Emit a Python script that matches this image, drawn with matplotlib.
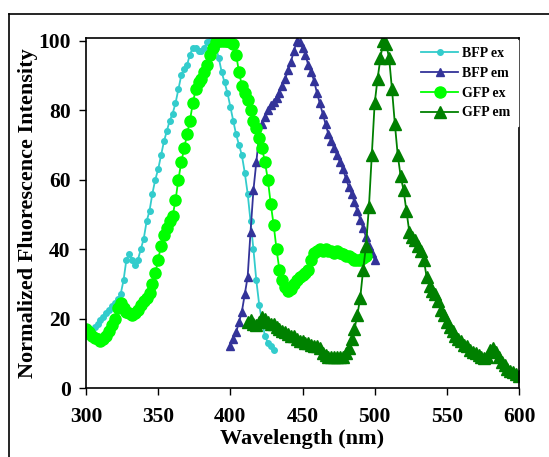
import numpy as np
import matplotlib
matplotlib.use("Agg")
import matplotlib.pyplot as plt
from matplotlib.lines import Line2D

# ---- data (wavelength nm, normalized intensity) ----
bfp_ex_nm = [300, 302, 304, 306, 308, 310, 312, 314, 316, 318, 320, 322, 324, 326, 328,
             330, 332, 334, 336, 338, 340, 342, 344, 346, 348, 350, 352, 354, 356, 358,
             360, 362, 364, 366, 368, 370, 372, 374, 376, 378, 380, 382, 384, 386, 388,
             390, 392, 394, 396, 398, 400, 402, 404, 406, 408, 410, 412, 414, 416, 418,
             420, 422, 424, 426, 428, 430]
bfp_ex = [15, 15.5, 16.5, 17.5, 18.5, 19.5, 20.5, 21.5, 22.5, 23.5, 24.5, 25.5, 27, 31, 37,
          38.5, 37, 35.5, 37, 40, 43, 48, 51, 56, 60, 63, 67, 71, 74, 77,
          79, 82, 86, 90, 92, 93, 96, 98, 98, 97, 97, 98, 99.5, 100, 100,
          98, 95, 91, 88, 85, 81, 77, 73, 70, 67, 62, 56, 48, 40, 31,
          24, 19, 15, 13, 12, 11]

bfp_em_nm = [400, 402, 404, 406, 408, 410, 412, 414, 416, 418, 420, 422, 424, 426, 428,
             430, 432, 434, 436, 438, 440, 442, 444, 446, 448, 450, 452, 454, 456, 458,
             460, 462, 464, 466, 468, 470, 472, 474, 476, 478, 480, 482, 484, 486, 488,
             490, 492, 494, 496, 498, 500]
bfp_em = [12, 14, 16, 19, 22, 27, 32, 45, 57, 65, 73, 76, 78, 80, 81.5,
          82.5, 83.5, 85, 87, 89, 91.5, 94, 97, 100, 99.5, 98, 96, 93, 91, 88.5,
          85, 82, 79, 76, 73, 71, 69, 67, 65, 63, 60.5, 58, 56, 53.5, 51,
          48.5, 46, 43.5, 41, 39, 37]

gfp_ex_nm = [300, 302, 304, 306, 308, 310, 312, 314, 316, 318, 320, 322, 324, 326, 328,
             330, 332, 334, 336, 338, 340, 342, 344, 346, 348, 350, 352, 354, 356, 358,
             360, 362, 364, 366, 368, 370, 372, 374, 376, 378, 380, 382, 384, 386, 388,
             390, 392, 394, 396, 398, 400, 402, 404, 406, 408, 410, 412, 414, 416, 418,
             420, 422, 424, 426, 428, 430, 432, 434, 436, 438, 440, 442, 444, 446, 448,
             450, 452, 454, 456, 458, 460, 462, 464, 466, 468, 470, 472, 474, 476, 478,
             480, 482, 484, 486, 488, 490, 492, 494]
gfp_ex = [17, 16, 15, 14.5, 14, 13.5, 14, 15, 16.5, 18, 20, 23, 24.5, 23, 22,
          21.5, 21, 21.5, 22.5, 24, 25, 26, 27.5, 30, 33, 37, 41, 44, 46, 48,
          49.5, 54, 60, 65, 69, 73, 77, 82, 86, 88, 89, 91, 93, 96, 98,
          99.5, 100, 100, 100, 100, 99.5, 99, 96, 91, 87, 85, 83, 80, 77, 75,
          72, 69, 65, 60, 53, 47, 40, 34, 31, 29, 28, 28.5, 30, 31, 32,
          32.5, 33, 34, 37, 39, 39.5, 40, 39.5, 40, 39.5, 39.5, 39, 39.5, 39, 38.5,
          38, 38, 37.5, 37, 37, 37, 37.5, 38]

gfp_em_nm = [412, 414, 416, 418, 420, 422, 424, 426, 428, 430, 432, 434, 436, 438, 440,
             442, 444, 446, 448, 450, 452, 454, 456, 458, 460, 462, 464, 466, 468, 470,
             472, 474, 476, 478, 480, 482, 484, 486, 488, 490, 492, 494, 496, 498, 500,
             502, 504, 506, 508, 510, 512, 514, 516, 518, 520, 522, 524, 526, 528, 530,
             532, 534, 536, 538, 540, 542, 544, 546, 548, 550, 552, 554, 556, 558, 560,
             562, 564, 566, 568, 570, 572, 574, 576, 578, 580, 582, 584, 586, 588, 590,
             592, 594, 596, 598, 600]
gfp_em = [19, 19.5, 18.5, 18, 19, 20.5, 20, 19, 18.5, 18.5, 17.5, 17, 16.5, 16, 15.5,
          15, 15, 14, 13.5, 13.5, 13, 13, 12.5, 12, 12, 11.5, 10, 9.5, 9, 9,
          9, 9, 9, 9, 10, 11.5, 14, 17, 21, 26, 34, 41, 52, 67, 82,
          89, 95, 100, 99, 95, 86, 76, 67, 61, 57, 51, 45, 43.5, 42.5, 41,
          39.5, 37, 32, 29.5, 28, 27, 25, 22.5, 21, 19, 17.5, 16.5, 15, 14, 13.5,
          12.5, 12, 11, 10.5, 10, 9.5, 9, 8.5, 9, 11, 11.5, 10.5, 9, 7.5, 6.5,
          5.5, 5, 4.5, 4, 3.5]

x_ticks = [300, 350, 400, 450, 500, 550, 600]
y_ticks = [0, 20, 40, 60, 80, 100]

plt.rcParams['font.family'] = ['Liberation Serif', 'DejaVu Serif']
plt.rcParams['font.weight'] = 'bold'

fig = plt.figure(figsize=(5.49, 4.57), dpi=100)
ax = fig.add_axes([86 / 549, 69 / 457, 433 / 549, 349.7 / 457])

ax.plot(bfp_ex_nm, bfp_ex, color='#33CCCC', marker='o', ms=4, lw=1.3,
        mec='#33CCCC', label='BFP ex')
ax.plot(bfp_em_nm, bfp_em, color='#333399', marker='^', ms=5.5, lw=1.3,
        mec='#333399', label='BFP em')
ax.plot(gfp_ex_nm, gfp_ex, color='#00FF00', marker='o', ms=8, lw=1.3,
        mec='#00FF00', label='GFP ex')
ax.plot(gfp_em_nm, gfp_em, color='#008000', marker='^', ms=8, lw=1.3,
        mec='#008000', label='GFP em')

ax.set_xlim(300, 600)
ax.set_ylim(0, 100.7)
ax.set_xticks(x_ticks)
ax.set_yticks(y_ticks)
ax.tick_params(direction='out', length=5, width=1, labelsize=15.5, color='black')
ax.tick_params(axis='x', pad=9)
ax.tick_params(axis='y', pad=6)
for s in ax.spines.values():
    s.set_linewidth(1.2)

ax.set_xlabel('Wavelength (nm)', fontsize=16, fontweight='bold', labelpad=1)
ax.set_ylabel('Normalized Fluorescence Intensity', fontsize=16, fontweight='bold', labelpad=0)

leg = ax.legend(loc='upper right', fontsize=10, frameon=True, fancybox=False,
                handlelength=2.7, labelspacing=0.5, borderaxespad=0.1,
                handletextpad=0.3, borderpad=0.5)
leg.get_frame().set_edgecolor('white')
leg.get_frame().set_alpha(1)

# outer chart-area border (only top and left are inside the crop)
fig.add_artist(Line2D([9 / 549, 9 / 549], [0, 1 - 14 / 457], color='black', lw=1.2,
                      transform=fig.transFigure))
fig.add_artist(Line2D([9 / 549, 1], [1 - 14 / 457, 1 - 14 / 457], color='black', lw=1.2,
                      transform=fig.transFigure))

fig.savefig('out.png', dpi=100)
